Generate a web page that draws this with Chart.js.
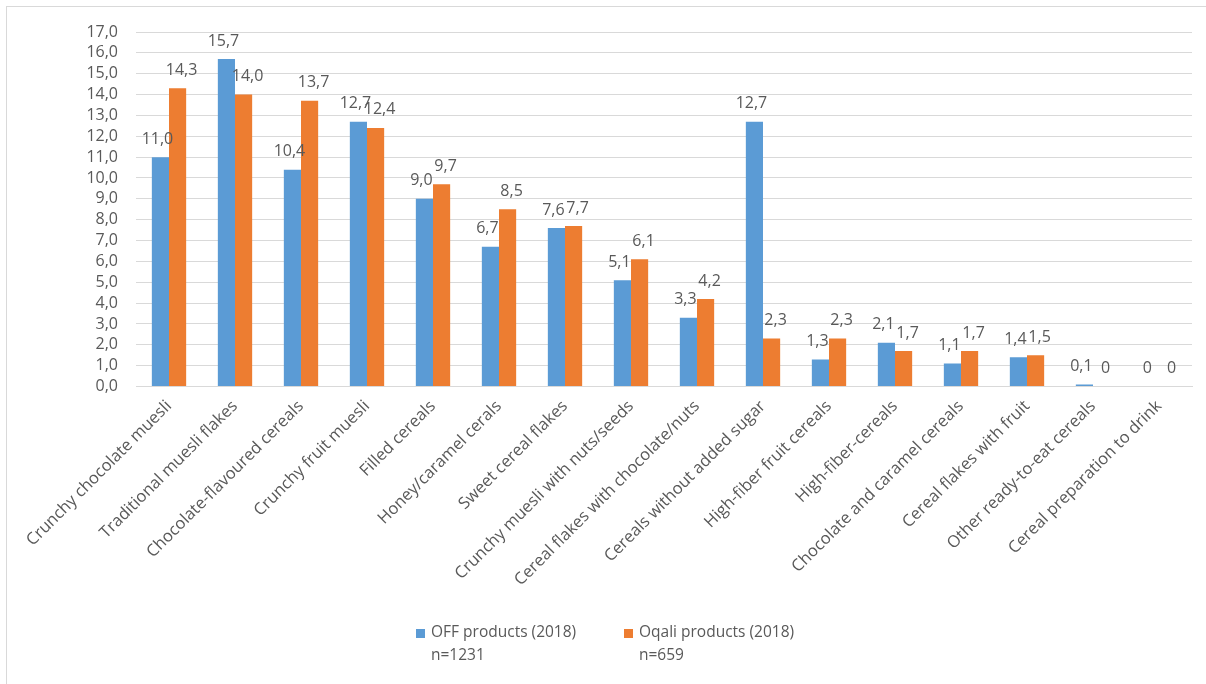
<!DOCTYPE html>
<html>
<head>
<meta charset="utf-8">
<script src="https://cdn.jsdelivr.net/npm/chart.js@4/dist/chart.umd.min.js"></script>
<style>
  html, body { margin: 0; padding: 0; background: #fff; }
  #wrap { position: relative; width: 1206px; height: 684px; }
  #frame { position: absolute; left: 6px; top: 6px; right: 0; bottom: 0;
           border-left: 1px solid #d9d9d9; border-top: 1px solid #d9d9d9; }
</style>
</head>
<body>
<div id="wrap">
  <div id="frame"></div>
  <canvas id="cereals" width="1206" height="684"></canvas>
</div>
<script>
var categories = [
  'Crunchy chocolate muesli',
  'Traditional muesli flakes',
  'Chocolate-flavoured cereals',
  'Crunchy fruit muesli',
  'Filled cereals',
  'Honey/caramel cerals',
  'Sweet cereal flakes',
  'Crunchy muesli with nuts/seeds',
  'Cereal flakes with chocolate/nuts',
  'Cereals without added sugar',
  'High-fiber fruit cereals',
  'High-fiber-cereals',
  'Chocolate and caramel cereals',
  'Cereal flakes with fruit',
  'Other ready-to-eat cereals',
  'Cereal preparation to drink'
];
var offValues   = [11.0, 15.7, 10.4, 12.7, 9.0, 6.7, 7.6, 5.1, 3.3, 12.7, 1.3, 2.1, 1.1, 1.4, 0.1, 0];
var oqaliValues = [14.3, 14.0, 13.7, 12.4, 9.7, 8.5, 7.7, 6.1, 4.2, 2.3, 2.3, 1.7, 1.7, 1.5, 0, 0];
var seriesNames = [['OFF products (2018)', 'n=1231'], ['Oqali products (2018)', 'n=659']];
var yTicks = { min: 0, max: 17, step: 1 };

var TEXT = '#595959';
var FONT = '"Open Sans", Lato, sans-serif';

function fmt(v) {
  return v === 0 ? '0' : v.toFixed(1).replace('.', ',');
}

/* value labels above each bar, pushed slightly apart within a pair */
var barLabels = {
  id: 'barLabels',
  afterDatasetsDraw: function(chart) {
    var ctx = chart.ctx;
    var nudge = [-3, 4];
    ctx.save();
    ctx.font = '16px ' + FONT;
    ctx.fillStyle = TEXT;
    ctx.textAlign = 'center';
    ctx.textBaseline = 'middle';
    chart.data.datasets.forEach(function(ds, i) {
      chart.getDatasetMeta(i).data.forEach(function(bar, j) {
        ctx.fillText(fmt(ds.data[j]), bar.x + nudge[i], bar.y - 18);
      });
    });
    ctx.restore();
  }
};

/* two-line legend at the bottom */
var bottomLegend = {
  id: 'bottomLegend',
  afterDraw: function(chart) {
    var ctx = chart.ctx;
    var xs = [416, 624];
    var y = 633;
    ctx.save();
    ctx.font = '15.5px ' + FONT;
    ctx.textBaseline = 'middle';
    ctx.textAlign = 'left';
    chart.data.datasets.forEach(function(ds, i) {
      ctx.fillStyle = ds.backgroundColor;
      ctx.fillRect(xs[i], y - 4, 9, 9);
      ctx.fillStyle = TEXT;
      ds.label.forEach(function(line, k) {
        ctx.fillText(line, xs[i] + 15, y + k * 23);
      });
    });
    ctx.restore();
  }
};

new Chart(document.getElementById('cereals'), {
  type: 'bar',
  data: {
    labels: categories,
    datasets: [
      { label: seriesNames[0], data: offValues, backgroundColor: '#5B9BD5' },
      { label: seriesNames[1], data: oqaliValues, backgroundColor: '#ED7D31' }
    ]
  },
  options: {
    responsive: false,
    animation: false,
    layout: { padding: { top: 32, right: 14, left: 10, bottom: 84 } },
    datasets: { bar: { categoryPercentage: 0.52, barPercentage: 1 } },
    plugins: { legend: { display: false }, tooltip: { enabled: false } },
    scales: {
      x: {
        grid: { display: false, drawTicks: false },
        border: { color: '#d9d9d9', width: 1 },
        ticks: { color: TEXT, font: { family: FONT, size: 16.5 }, minRotation: 45, maxRotation: 45, padding: 10 }
      },
      y: {
        min: yTicks.min,
        max: yTicks.max,
        afterFit: function(scale) { scale.width = 126; },
        grid: { color: '#d9d9d9', drawTicks: false },
        border: { display: false },
        ticks: {
          stepSize: yTicks.step,
          autoSkip: false,
          color: TEXT,
          font: { family: FONT, size: 16 },
          padding: 18,
          callback: function(v) { return v.toFixed(1).replace('.', ','); }
        }
      }
    }
  },
  plugins: [barLabels, bottomLegend]
});
</script>
</body>
</html>
